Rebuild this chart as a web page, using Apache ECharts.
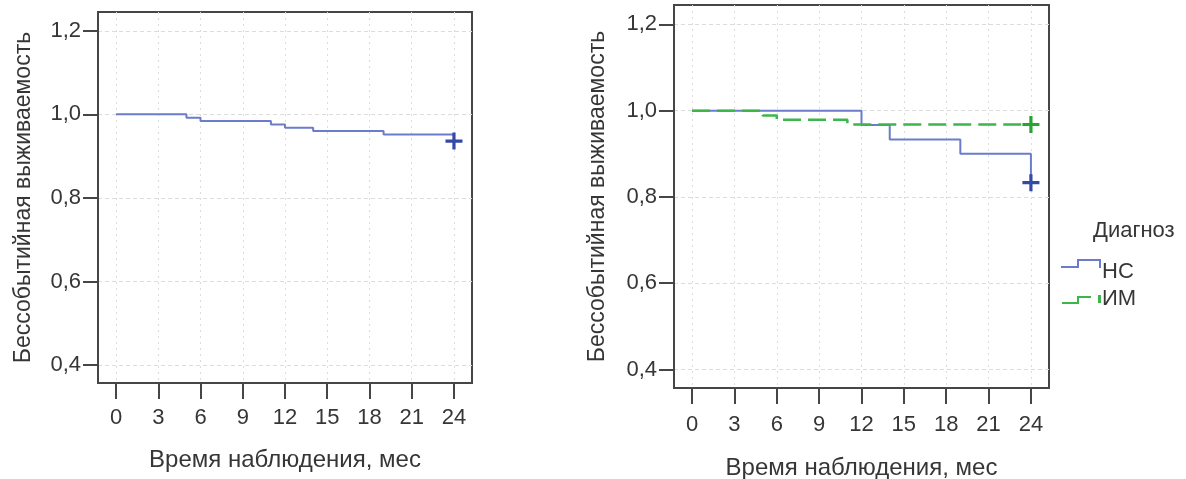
<!DOCTYPE html>
<html><head><meta charset="utf-8">
<script src="https://cdn.jsdelivr.net/npm/echarts@6/dist/echarts.min.js"></script>
<style>html,body{margin:0;padding:0;background:#fff}#c{width:1186px;height:479px}</style>
</head><body><div id="c"></div>
<script>
// ---- data ----
const xTicks = [0, 3, 6, 9, 12, 15, 18, 21, 24];
const yTicks = [0.4, 0.6, 0.8, 1.0, 1.2];
const xTitle = 'Время наблюдения, мес';
const yTitle = 'Бессобытийная выживаемость';
const legendTitle = 'Диагноз';
// left panel: all patients
const allTime = [0, 5, 6, 11, 12, 14, 19, 24];
const allSurv = [1.0, 0.992, 0.984, 0.976, 0.968, 0.960, 0.952, 0.936];
// right panel: by diagnosis
const groupNames = ['НС', 'ИМ'];
const nsTime = [0, 12, 14, 19, 24];
const nsSurv = [1.0, 0.967, 0.933, 0.900, 0.833];
const imTime = [0, 5, 6, 11, 24];
const imSurv = [1.0, 0.989, 0.979, 0.968, 0.968];

const FONT = '"Liberation Sans", Arial, sans-serif';
const TXT = '#363636';
const AX = '#464646';
const BLUE = '#6b7ccb', BLUE_D = '#3448a6';
const GREEN = '#3cb54a', GREEN_D = '#26a532';
const PLUS = 'path://M6.5 0H9.5V6.5H16V9.5H9.5V16H6.5V9.5H0V6.5H6.5Z';

function toData(ts, ss, markColor) {
  return ts.map((t, i) => {
    const last = i === ts.length - 1;
    return last
      ? {value: [t, ss[i]], symbol: PLUS, symbolSize: 17, itemStyle: {color: markColor}}
      : {value: [t, ss[i]], symbol: 'none'};
  });
}
const fmtY = v => v.toFixed(1).replace('.', ',');

function xAxis(gi, gap, nameGap) {
  return {
    type: 'value', gridIndex: gi, min: -1.28, max: 25.28,
    name: xTitle, nameLocation: 'middle', nameGap: nameGap,
    nameTextStyle: {fontFamily: FONT, fontSize: 24, color: TXT},
    axisLine: {show: true, onZero: false, lineStyle: {color: AX, width: 2}},
    axisTick: {show: true, inside: false, length: 16, lineStyle: {color: AX, width: 2}, customValues: xTicks},
    axisLabel: {fontFamily: FONT, fontSize: 22, color: TXT, margin: gap, customValues: xTicks},
    splitLine: {show: true, lineStyle: {color: '#dcdcdc', type: [2, 4], width: 1}}
  };
}
function yAxis(gi, nameGap) {
  return {
    type: 'value', gridIndex: gi, min: 0.357, max: 1.245,
    name: yTitle, nameLocation: 'middle', nameRotate: 90, nameGap: nameGap,
    nameTextStyle: {fontFamily: FONT, fontSize: 23, color: TXT},
    axisLine: {show: true, onZero: false, lineStyle: {color: AX, width: 2}},
    axisTick: {show: true, inside: false, length: 15, lineStyle: {color: AX, width: 2}, customValues: yTicks},
    axisLabel: {fontFamily: FONT, fontSize: 22, color: TXT, margin: 17, formatter: fmtY, customValues: yTicks},
    splitLine: {show: true, lineStyle: {color: '#dcdcdc', type: [4, 3], width: 1}}
  };
}

// legend icons: 40x26 box (tiny corner dots fix the bounding box)
const BOX = 'M0 0H0.01V0.01H0Z M39.99 25.99H40V26H39.99Z';
const ICON_NS = 'path://' + BOX + ' M0 7H17V9H0Z M16 0H18V9H16Z M16 0H40V2H16Z M38 0H40V9H38Z';
const ICON_IM = 'path://' + BOX + ' M1 16H17V18H1Z M16 10H18V18H16Z M16 10H30V12H16Z M37 9H40V17H37Z';

const chart = echarts.init(document.getElementById('c'), null, {renderer: 'canvas'});
chart.setOption({
  animation: false,
  backgroundColor: '#fff',
  title: {text: legendTitle, left: 1088, top: 215,
    textStyle: {fontFamily: FONT, fontSize: 22, fontWeight: 'normal', color: TXT}},
  legend: {
    data: [{name: groupNames[0], icon: ICON_NS}, {name: groupNames[1], icon: ICON_IM}],
    orient: 'vertical', left: 1056, top: 254,
    itemWidth: 40, itemHeight: 26, itemGap: 1,
    textStyle: {fontFamily: FONT, fontSize: 22, color: TXT, padding: [0, 0, 0, -4]},
    itemStyle: {borderWidth: 0}
  },
  grid: [
    {left: 98, top: 12, width: 374, height: 371, show: true, borderColor: AX, borderWidth: 2,
      backgroundColor: 'transparent', outerBoundsMode: 'none', containLabel: false},
    {left: 674, top: 5, width: 375, height: 383, show: true, borderColor: AX, borderWidth: 2,
      backgroundColor: 'transparent', outerBoundsMode: 'none', containLabel: false}
  ],
  xAxis: [xAxis(0, 24, 65), xAxis(1, 26, 68)],
  yAxis: [yAxis(0, 63), yAxis(1, 65)],
  series: [
    {type: 'line', name: 'Все', xAxisIndex: 0, yAxisIndex: 0, step: 'end', symbol: 'none',
      data: toData(allTime, allSurv, BLUE_D), lineStyle: {color: BLUE, width: 2}, itemStyle: {color: BLUE}},
    {type: 'line', name: groupNames[0], xAxisIndex: 1, yAxisIndex: 1, step: 'end', symbol: 'none',
      data: toData(nsTime, nsSurv, BLUE_D), lineStyle: {color: BLUE, width: 2}, itemStyle: {color: BLUE}},
    {type: 'line', name: groupNames[1], xAxisIndex: 1, yAxisIndex: 1, step: 'end', symbol: 'none',
      data: toData(imTime, imSurv, GREEN_D), lineStyle: {color: GREEN, width: 2.5, type: [18, 7]}, itemStyle: {color: GREEN}}
  ]
});
</script></body></html>
